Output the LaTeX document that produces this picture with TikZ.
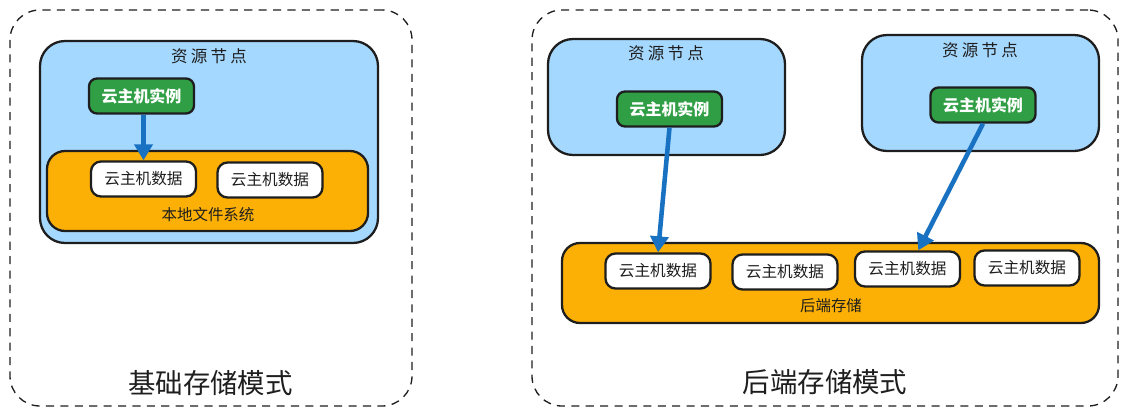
\documentclass[tikz,border=0pt]{standalone}
\usepackage{fontspec}
\setmainfont{Noto Sans CJK SC}
\newfontfamily\widecjk[LetterSpace=20]{Noto Sans CJK SC}
\usepackage{xcolor}
\usetikzlibrary{arrows.meta}
\definecolor{NodeBlue}{HTML}{A5D8FF}
\definecolor{StoreOrange}{HTML}{FCB005}
\definecolor{VmGreen}{HTML}{2F9E44}
\definecolor{LinkBlue}{HTML}{1971C2}
\definecolor{InkBlack}{HTML}{1E1E1E}
\tikzset{
  outerbox/.style={rectangle, draw=InkBlack, line width=0.75pt, dash pattern=on 4.6pt off 3.6pt,
    rounded corners=0.6cm, inner sep=0pt, minimum width=8.04cm, minimum height=7.92cm},
  hostbox/.style={rectangle, fill=NodeBlue, draw=InkBlack, line width=1.3pt,
    rounded corners=0.5cm, inner sep=0pt},
  storebox/.style={rectangle, fill=StoreOrange, draw=InkBlack, line width=1.3pt,
    rounded corners=0.36cm, inner sep=0pt, minimum height=1.6cm},
  vmbox/.style={rectangle, fill=VmGreen, draw=InkBlack, line width=1.3pt, text=white,
    rounded corners=0.16cm, inner sep=0pt, minimum width=2.1cm, minimum height=0.7cm,
    font=\fontsize{9.1}{10}\selectfont\bfseries},
  databox/.style={rectangle, fill=white, draw=InkBlack, line width=1.3pt, text=InkBlack,
    rounded corners=0.2cm, inner sep=0pt, minimum width=2.1cm, minimum height=0.7cm,
    font=\fontsize{8.9}{10}\selectfont},
  hostlabel/.style={text=InkBlack, inner sep=0pt, font=\fontsize{9.4}{10}\widecjk},
  storelabel/.style={text=InkBlack, inner sep=0pt, font=\fontsize{8.8}{10}\selectfont},
  modelabel/.style={text=InkBlack, inner sep=0pt, font=\fontsize{15.6}{17}\selectfont},
  link/.style={-{Triangle[length=0.32cm,width=0.36cm]}, draw=LinkBlue, line width=2.6pt},
}

\begin{document}
\begin{tikzpicture}
  \useasboundingbox (0, 0) rectangle (22.56, -8.34);

  % basic storage
  \node[outerbox] (basic) at (4.22, -4.16) {};
  \node[hostbox, minimum width=6.76cm, minimum height=4.04cm] (host) at (4.18, -2.84) {};
  \node[hostlabel] (hostname) at (4.18, -1.12) {资源节点};
  \node[storebox, minimum width=6.42cm] (local) at (4.15, -3.82) {};
  \node[vmbox] (vm) at (2.83, -1.92) {云主机实例};
  \node[databox] (data1) at (2.87, -3.58) {云主机数据};
  \node[databox] (data2) at (5.40, -3.60) {云主机数据};
  \node[storelabel] (localname) at (4.16, -4.30) {本地文件系统};
  \node[modelabel] (basicname) at (4.21, -7.66) {基础存储模式};
  \draw[link] (data1.north |- vm.south) -- (data1.north);

  % backend storage
  \node[outerbox, minimum width=11.72cm] (backend) at (16.5, -4.16) {};
  \node[hostbox, minimum width=4.74cm, minimum height=2.32cm] (hostA) at (13.33, -1.94) {};
  \node[hostbox, minimum width=4.74cm, minimum height=2.32cm] (hostB) at (19.61, -1.86) {};
  \node[hostlabel] (hostAname) at (13.32, -1.06) {资源节点};
  \node[hostlabel] (hostBname) at (19.60, -1.00) {资源节点};
  \node[vmbox] (vmA) at (13.39, -2.18) {云主机实例};
  \node[vmbox] (vmB) at (19.66, -2.10) {云主机实例};

  \node[storebox, minimum width=10.74cm] (remote) at (16.61, -5.66) {};
  \node[databox] (dataA) at (13.16, -5.42) {云主机数据};
  \node[databox] (dataB) at (15.70, -5.44) {云主机数据};
  \node[databox] (dataC) at (18.15, -5.38) {云主机数据};
  \node[databox] (dataD) at (20.54, -5.36) {云主机数据};
  \node[storelabel] (remotename) at (16.62, -6.12) {后端存储};
  \node[modelabel] (backendname) at (16.50, -7.64) {后端存储模式};

  \draw[link] (vmA.south) -- (dataA.north);
  \draw[link] (vmB.south) -- (dataC.60);
\end{tikzpicture}
\end{document}
